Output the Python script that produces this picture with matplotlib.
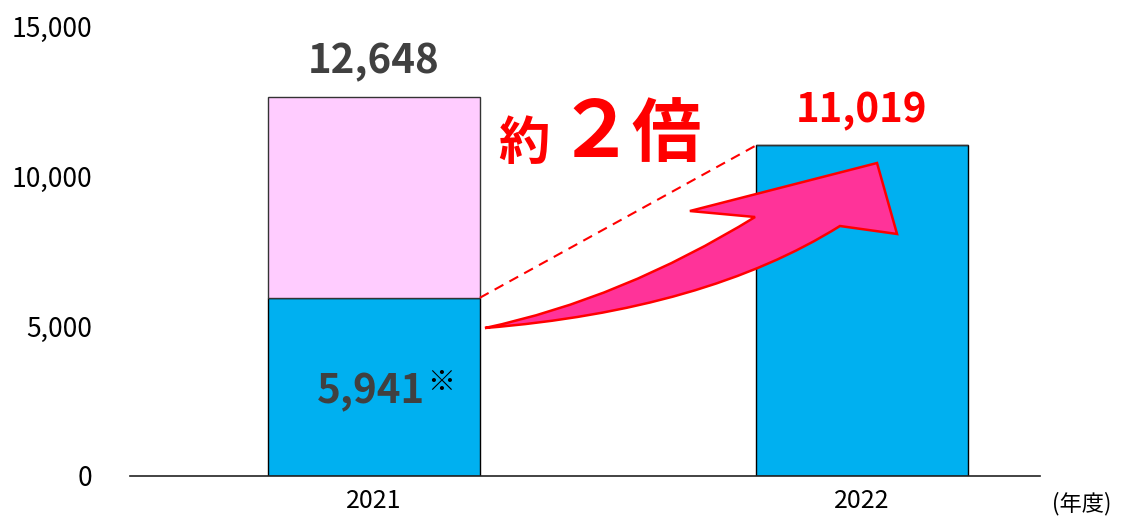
import matplotlib
matplotlib.use("Agg")
import matplotlib.pyplot as plt
from matplotlib.path import Path
from matplotlib.patches import PathPatch

plt.rcParams['font.family'] = ['Noto Sans CJK JP', 'DejaVu Sans']

# ==========================================
# DATA
# ==========================================
years = ["2021", "2022"]
base_values = [5941, 11019]      # blue part
extra_values = [12648 - 5941, 0]  # pink part on top of 2021
total_labels = ["12,648", "11,019"]
inner_label = "5,941"
y_ticks = [0, 5000, 10000, 15000]
y_tick_labels = ["0", "5,000", "10,000", "15,000"]

blue = "#00B0F0"
pink = "#FFCCFF"
arrow_pink = "#FF3399"
red = "#FF0000"
gray_text = "#404040"

# ==========================================
# FIGURE / AXES
# ==========================================
fig = plt.figure(figsize=(11.21, 5.16), dpi=100)
ax = fig.add_axes([130 / 1121, 40 / 516, 910 / 1121, 450 / 516])

x = list(range(len(years)))
bar_w = 0.434

ax.bar(x, base_values, width=bar_w, color=blue, edgecolor="black", linewidth=1.0, zorder=2)
ax.bar(x, extra_values, width=bar_w, bottom=base_values, color=pink,
       edgecolor="#333333", linewidth=1.0, zorder=2)

ax.set_xlim(-0.5, 1.365)
ax.set_ylim(0, 15000)
ax.set_xticks(x)
ax.set_xticklabels(years, fontsize=18)
ax.set_yticks(y_ticks)
ax.set_yticklabels(y_tick_labels, fontsize=19)
ax.tick_params(axis="y", length=0, pad=27)
ax.tick_params(axis="x", length=0, pad=9)

for side in ["top", "right", "left"]:
    ax.spines[side].set_visible(False)
ax.spines["bottom"].set_linewidth(1.2)
ax.spines["bottom"].set_color("#222222")

# ==========================================
# LABELS
# ==========================================
tops = [b + e for b, e in zip(base_values, extra_values)]
label_colors = [gray_text, red]
for xi, top, lab, col in zip(x, tops, total_labels, label_colors):
    ax.annotate(lab, xy=(xi, top), xytext=(0, 17), textcoords="offset points",
                ha="center", va="baseline", fontsize=29, fontweight="bold", color=col)

ax.text(-0.006, 2433, inner_label, ha="center", va="baseline",
        fontsize=29, fontweight="bold", color=gray_text, zorder=3)
ax.text(0.137, 3100, "※", ha="center", va="center", fontsize=20, color="black", zorder=3)

# "about 2x" callout
ax.text(0.307, 11100, "約", ha="center", va="center", fontsize=37,
        fontweight="bold", color=red)
ax.text(0.453, 11400, "２", ha="center", va="center", fontsize=56,
        fontweight="bold", color=red)
ax.text(0.598, 11333, "倍", ha="center", va="center", fontsize=50,
        fontweight="bold", color=red)

# unit label
fig.text(1082 / 1121, 12 / 516, "(年度)", ha="center", va="center", fontsize=16)

# dashed guide line from 2021 blue top to 2022 bar top
ax.plot([x[0] + bar_w / 2, x[1] - bar_w / 2], [base_values[0], base_values[1]],
        color=red, linewidth=1.5, dashes=(4.8, 3.3), zorder=3)

# curved arrow
verts = [
    (0.2275, 4933),   # tail
    (0.508, 5900),    # control (upper edge)
    (0.781, 8633),    # inner barb corner
    (0.6475, 8833),   # barb tip
    (1.031, 10433),   # head tip
    (1.072, 8067),    # head right
    (0.955, 8333),    # inner lower
    (0.680, 5533),    # control (lower edge)
    (0.2275, 4933),   # back to tail
    (0.2275, 4933),
]
codes = [Path.MOVETO, Path.CURVE3, Path.CURVE3, Path.LINETO, Path.LINETO,
         Path.LINETO, Path.LINETO, Path.CURVE3, Path.CURVE3, Path.CLOSEPOLY]
arrow = PathPatch(Path(verts, codes), facecolor=arrow_pink, edgecolor=red,
                  linewidth=1.8, joinstyle="miter", zorder=4)
ax.add_patch(arrow)

fig.savefig("out.png", dpi=100)
